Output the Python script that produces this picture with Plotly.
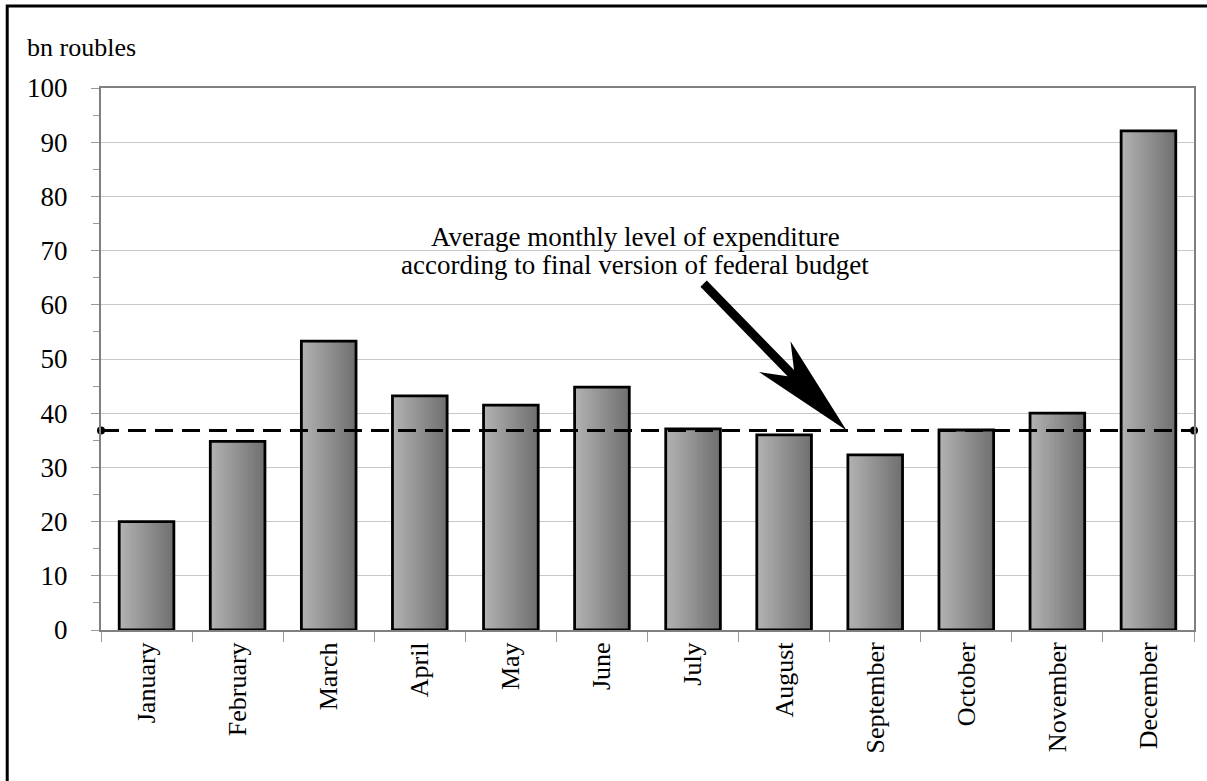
import plotly.graph_objects as go
import numpy as np

# ---- data ----
months = ["January", "February", "March", "April", "May", "June",
          "July", "August", "September", "October", "November", "December"]
spending = [20.0, 34.8, 53.3, 43.2, 41.5, 44.8, 37.1, 36.0, 32.3, 36.9, 40.0, 92.1]
average_level = 36.8
y_tick_vals = list(range(0, 101, 10))
note_line1 = "Average monthly level of expenditure"
note_line2 = "according to final version of federal budget"
unit_label = "bn roubles"

FONT = "Liberation Serif, Times New Roman, serif"

fig = go.Figure()

# gradient bars built from overlapping slices
N = 30
bar_w = 0.6
c_left = np.array([178, 178, 178])
c_right = np.array([112, 112, 112])
for k in range(N):
    t = k / (N - 1)
    c = (c_left * (1 - t) + c_right * t).round().astype(int)
    fig.add_trace(go.Bar(
        x=months, y=spending,
        width=bar_w - k * bar_w / N,
        offset=-bar_w / 2 + k * bar_w / N,
        marker=dict(color=f"rgb({c[0]},{c[1]},{c[2]})", line=dict(width=0)),
        hoverinfo="skip", showlegend=False,
    ))
# outline
fig.add_trace(go.Bar(
    x=months, y=spending, width=bar_w, offset=-bar_w / 2,
    marker=dict(color="rgba(0,0,0,0)", line=dict(color="black", width=2.8)),
    hoverinfo="skip", showlegend=False,
))

# average level dashed line
fig.add_trace(go.Scatter(
    x=[0, 1], y=[average_level, average_level], xaxis="x2",
    mode="lines+markers",
    line=dict(color="black", width=3, dash="18px,9px"),
    marker=dict(size=8, color="black"),
    cliponaxis=False, showlegend=False, hoverinfo="skip",
))

# arrow (pixel offsets relative to the tip on the average line)
tail = np.array([-143.0, 147.0])
d = -tail / np.linalg.norm(tail)
n = np.array([-d[1], d[0]])
head_len, head_half, notch, shaft_half = 103, 22, 80, 4.5
tip = np.array([0.0, 0.0])
w1 = tip - head_len * d + head_half * n
w2 = tip - head_len * d - head_half * n
nc = tip - notch * d
pts = [tip, w1, nc + shaft_half * n, tail + shaft_half * n,
       tail - shaft_half * n, nc - shaft_half * n, w2]
path = "M" + " L".join(f"{p[0]:.1f},{p[1]:.1f}" for p in pts) + " Z"
fig.add_shape(type="path", xref="x", yref="y", xsizemode="pixel", ysizemode="pixel",
              xanchor=7.686, yanchor=average_level, path=path,
              fillcolor="black", line=dict(width=0), layer="above")

# outer frame: only left and top edges are visible
fig.add_shape(type="path", xref="paper", yref="paper",
              path="M -0.0858,-0.4 L -0.0858,1.1513 L 1.2,1.1513",
              line=dict(color="black", width=3))

fig.add_annotation(text=note_line1, xref="paper", yref="paper", x=0.4886, y=0.7255,
                   showarrow=False, font=dict(family=FONT, size=27, color="black"),
                   xanchor="center", yanchor="middle")
fig.add_annotation(text=note_line2, xref="paper", yref="paper", x=0.4886, y=0.6735,
                   showarrow=False, font=dict(family=FONT, size=27, color="black"),
                   xanchor="center", yanchor="middle")
fig.add_annotation(text=unit_label, xref="paper", yref="paper", x=-0.0694, y=1.0756,
                   showarrow=False, font=dict(family=FONT, size=26, color="black"),
                   xanchor="left", yanchor="middle")

fig.update_layout(
    width=1207, height=781,
    margin=dict(l=101, r=11, t=88, b=151),
    paper_bgcolor="white", plot_bgcolor="white",
    barmode="overlay", showlegend=False,
    font=dict(family=FONT, size=26, color="black"),
    xaxis=dict(type="category", tickson="boundaries", ticks="outside", ticklen=10,
               tickcolor="#999999", tickwidth=1, tickangle=-90,
               showline=True, linecolor="#808080", linewidth=2, mirror=True,
               showgrid=False, tickfont=dict(family=FONT, size=26, color="black")),
    xaxis2=dict(overlaying="x", range=[0, 1], visible=False),
    yaxis=dict(range=[0, 100], tickvals=y_tick_vals, ticks="outside", ticklen=8,
               tickcolor="#999999", tickwidth=1,
               minor=dict(dtick=5, ticks="outside", ticklen=6, tickcolor="#999999", showgrid=False),
               showline=True, linecolor="#808080", linewidth=2, mirror=True,
               gridcolor="#c8c8c8", gridwidth=1, zeroline=False,
               ticklabelstandoff=18,
               tickfont=dict(family=FONT, size=27, color="black")),
)

fig.write_html("out.html")
